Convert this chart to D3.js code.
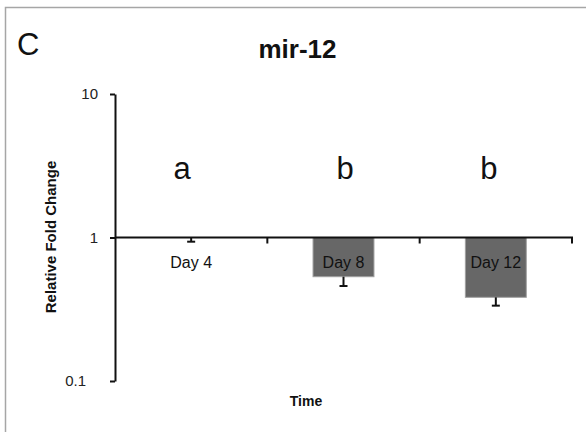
<!DOCTYPE html>
<html>
<head>
<meta charset="utf-8">
<script src="https://cdn.jsdelivr.net/npm/d3@7"></script>
<style>
  html, body { margin: 0; padding: 0; background: #fff; }
  svg { display: block; font-family: "Liberation Sans", Arial, sans-serif; }
</style>
</head>
<body>
<svg id="chart" width="586" height="432"></svg>
<script>
// mir-12 relative expression over time (log scale)
const categories = ["Day 4", "Day 8", "Day 12"];
const foldChange = [1.0, 0.533, 0.383];
const errorLow = [0.935, 0.459, 0.335];
const groupLetters = ["a", "b", "b"];
const yTicks = [0.1, 1, 10];
const yTickLabels = ["0.1", "1", "10"];

const svg = d3.select("#chart");

// panel frame (continues past the right and bottom edges)
svg.append("path")
  .attr("d", "M5.5,440 L5.5,7.5 L600,7.5")
  .attr("fill", "none")
  .attr("stroke", "#a6a6a6")
  .attr("stroke-width", 1.5);

const plot = { left: 115, right: 572, top: 94, bottom: 381 };

const x = d3.scaleBand().domain(categories).range([plot.left, plot.right]).padding(0);
const y = d3.scaleLog().domain([0.1, 10]).range([plot.bottom, plot.top]);
const barW = x.bandwidth() * 0.4;
const base = y(1);

// panel letter and title
svg.append("text").attr("x", 17).attr("y", 55)
  .attr("font-size", 31).attr("fill", "#111").text("C");
svg.append("text").attr("x", 297.5).attr("y", 58)
  .attr("text-anchor", "middle").attr("font-size", 26).attr("font-weight", "bold")
  .attr("fill", "#111").text("mir-12");

// bars hanging from 1
svg.append("g").selectAll("rect")
  .data(categories)
  .join("rect")
  .attr("x", d => x(d) + (x.bandwidth() - barW) / 2)
  .attr("y", (d, i) => Math.min(base, y(foldChange[i])))
  .attr("width", barW)
  .attr("height", (d, i) => Math.abs(y(foldChange[i]) - base))
  .attr("fill", "#676767")
  .attr("stroke", "#a0a0a0")
  .attr("stroke-width", 1);

// error bars
const eg = svg.append("g").attr("stroke", "#111").attr("stroke-width", 2);
categories.forEach((c, i) => {
  const cx = x(c) + x.bandwidth() / 2;
  eg.append("line")
    .attr("x1", cx).attr("x2", cx)
    .attr("y1", y(foldChange[i])).attr("y2", y(errorLow[i]));
  eg.append("line")
    .attr("x1", cx - 4).attr("x2", cx + 4)
    .attr("y1", y(errorLow[i])).attr("y2", y(errorLow[i]));
});

// category axis at fold change 1
const xg = svg.append("g").attr("stroke", "#111").attr("stroke-width", 2);
xg.append("line").attr("x1", plot.left).attr("x2", plot.right + 1)
  .attr("y1", base).attr("y2", base);
categories.forEach(c => {
  const tx = x(c) + x.bandwidth();
  xg.append("line").attr("x1", tx).attr("x2", tx)
    .attr("y1", base).attr("y2", base + 6);
});

// category labels
svg.append("g").selectAll("text")
  .data(categories)
  .join("text")
  .attr("x", d => x(d) + x.bandwidth() / 2)
  .attr("y", base + 30)
  .attr("text-anchor", "middle")
  .attr("font-size", 16)
  .attr("fill", "#111")
  .text(d => d);

// significance letters, hand-placed slightly off the group centres
const letterNudge = [-9, 1.5, -7];
svg.append("g").selectAll("text")
  .data(groupLetters)
  .join("text")
  .attr("x", (d, i) => x(categories[i]) + x.bandwidth() / 2 + letterNudge[i])
  .attr("y", 179)
  .attr("text-anchor", "middle")
  .attr("font-size", 31)
  .attr("fill", "#111")
  .text(d => d);

// log value axis
const yAxis = d3.axisLeft(y)
  .tickValues(yTicks)
  .tickFormat((d, i) => yTickLabels[i])
  .tickSizeInner(5)
  .tickSizeOuter(0)
  .tickPadding(12);
const yg = svg.append("g").attr("transform", `translate(${plot.left},0)`).call(yAxis);
yg.select(".domain").attr("stroke", "#111").attr("stroke-width", 2);
yg.selectAll(".tick line").attr("stroke", "#111").attr("stroke-width", 2);
yg.selectAll(".tick text")
  .attr("font-size", 15)
  .attr("font-family", "Liberation Sans, Arial, sans-serif")
  .attr("fill", "#222")
  .attr("dx", d => d < 1 ? -12 : 0);

// axis titles
svg.append("text")
  .attr("transform", "translate(56,237) rotate(-90)")
  .attr("text-anchor", "middle")
  .attr("font-size", 15)
  .attr("font-weight", "bold")
  .attr("fill", "#111")
  .text("Relative Fold Change");
svg.append("text")
  .attr("x", 306).attr("y", 406)
  .attr("text-anchor", "middle")
  .attr("font-size", 14)
  .attr("font-weight", "bold")
  .attr("fill", "#111")
  .text("Time");
</script>
</body>
</html>
